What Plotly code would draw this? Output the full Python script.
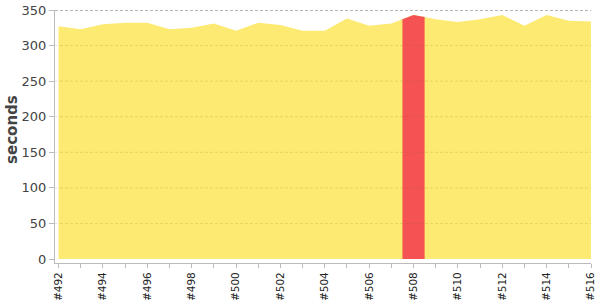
import numpy as np
import plotly.graph_objects as go

builds = list(range(492, 517))
durations = [327, 323, 330, 332, 332, 323, 325, 331, 321, 332, 329, 321, 321, 338, 328, 331,
             343, 337, 333, 337, 343, 328, 343, 335, 334]
highlight_build = 508
y_ticks = [0, 50, 100, 150, 200, 250, 300, 350]
x_labels = ["#%d" % b if (b - builds[0]) % 2 == 0 else "" for b in builds]

fig = go.Figure()
fig.add_trace(go.Scatter(
    x=builds, y=durations, mode="lines", fill="tozeroy",
    line=dict(width=0, color="#fcea72"), fillcolor="#fcea72", hoverinfo="skip"))

# highlighted build region (half a build on each side, following the outline)
hx = [highlight_build - 0.5, highlight_build, highlight_build + 0.5]
hy = list(np.interp(hx, builds, durations))
fig.add_trace(go.Scatter(
    x=hx, y=hy, mode="lines", fill="tozeroy",
    line=dict(width=0, color="#f55353"), fillcolor="#f55353", hoverinfo="skip"))

shapes = []
for t in y_ticks[1:]:
    top = t == y_ticks[-1]
    shapes.append(dict(type="line", xref="paper", x0=0, x1=1, yref="y", y0=t, y1=t,
                       line=dict(color="rgba(90,90,90,0.9)" if top else "rgba(120,100,0,0.16)",
                                 width=1, dash="3px,2px"),
                       layer="above"))

fig.update_layout(
    width=600, height=300,
    margin=dict(l=55, r=9, t=10, b=37),
    paper_bgcolor="white", plot_bgcolor="white",
    showlegend=False,
    shapes=shapes,
    font=dict(family="DejaVu Sans", color="#444"),
    xaxis=dict(
        range=[builds[0] - 0.16, builds[-1]],
        tickvals=builds, ticktext=x_labels, tickangle=-90,
        tickfont=dict(size=10.5, color="#222"),
        ticks="outside", ticklen=4, tickcolor="#bbb",
        showline=True, linecolor="#bbb", linewidth=1,
        showgrid=False, zeroline=False, automargin=False),
    yaxis=dict(
        range=[-5.6, 350],
        tickvals=y_ticks,
        tickfont=dict(size=13, color="#444"),
        ticks="outside", ticklen=5, tickcolor="#bbb",
        showline=True, linecolor="#bbb", linewidth=1,
        showgrid=False, zeroline=False, automargin=False),
    annotations=[dict(text="<b>seconds</b>", textangle=-90, xref="paper", yref="paper",
                      x=0, y=0.526, xshift=-43, xanchor="center", yanchor="middle",
                      showarrow=False, font=dict(size=15, color="#444", family="DejaVu Sans"))],
)

fig.write_html("out.html")
